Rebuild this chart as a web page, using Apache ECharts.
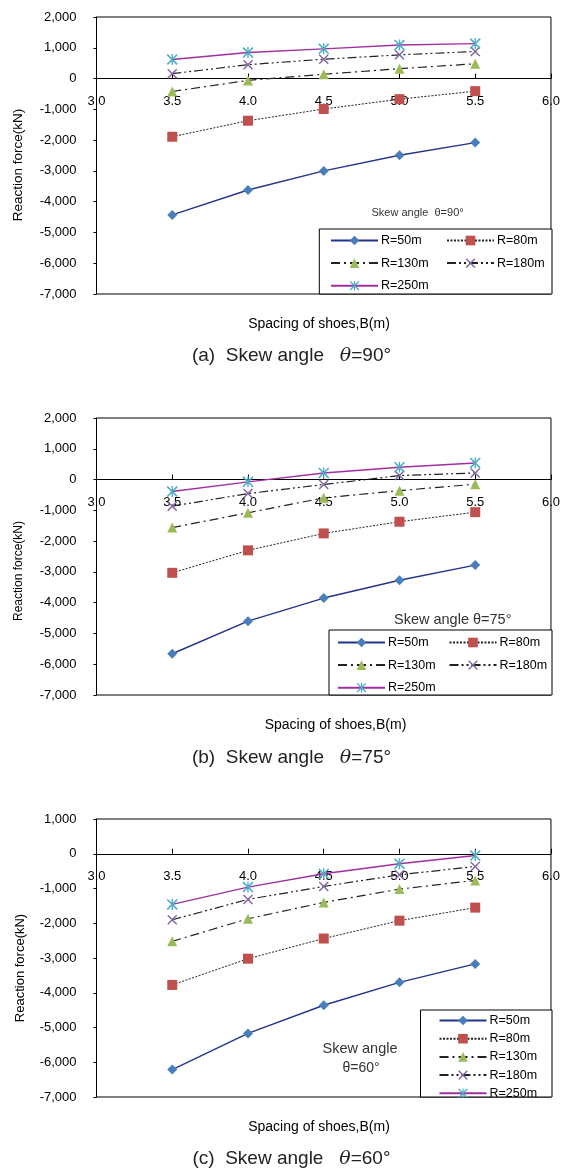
<!DOCTYPE html>
<html>
<head>
<meta charset="utf-8">
<script src="https://cdn.jsdelivr.net/npm/echarts@6/dist/echarts.min.js"></script>
<style>
html,body{margin:0;padding:0;background:#fff;}
#chart{width:563px;height:1169px;}
</style>
</head>
<body>
<div id="chart"></div>
<script>
// ---------- DATA ----------
const spacing = [3.5, 4.0, 4.5, 5.0, 5.5];
const seriesNames = ['R=50m', 'R=80m', 'R=130m', 'R=180m', 'R=250m'];

// (a) Skew angle 90°
const a_R50  = [-4430, -3620, -3000, -2490, -2080];
const a_R80  = [-1890, -1370, -990, -670, -410];
const a_R130 = [-420, -60, 140, 320, 480];
const a_R180 = [160, 450, 630, 770, 880];
const a_R250 = [620, 845, 965, 1090, 1135];

// (b) Skew angle 75°
const b_R50  = [-5660, -4600, -3850, -3270, -2780];
const b_R80  = [-3030, -2300, -1750, -1370, -1060];
const b_R130 = [-1560, -1080, -595, -360, -150];
const b_R180 = [-865, -455, -160, 130, 215];
const b_R250 = [-390, -75, 215, 400, 540];

// (c) Skew angle 60°
const c_R50  = [-6210, -5170, -4360, -3700, -3170];
const c_R80  = [-3775, -3020, -2440, -1925, -1550];
const c_R130 = [-2520, -1870, -1400, -1017, -767];
const c_R180 = [-1900, -1313, -940, -606, -365];
const c_R250 = [-1457, -960, -575, -287, -50];

const yTicksAB = {min: -7000, max: 2000, interval: 1000};
const yTicksC  = {min: -7000, max: 1000, interval: 1000};
const xTicks   = {min: 3.0, max: 6.0, interval: 0.5};

const panels = [
  [a_R50, a_R80, a_R130, a_R180, a_R250],
  [b_R50, b_R80, b_R130, b_R180, b_R250],
  [c_R50, c_R80, c_R130, c_R180, c_R250]
];

// ---------- STYLE ----------
const FONT = '"Liberation Sans", Arial, sans-serif';
const X_PATH = 'path://M0,1L1,0L10,9L9,10Z M9,0L10,1L1,10L0,9Z';
const AST_PATH = 'path://M0,1L1,0L10,9L9,10Z M9,0L10,1L1,10L0,9Z M4.4,0L5.6,0L5.6,10L4.4,10Z';
const styles = [
  {symbol: 'diamond', size: 10, color: '#4A7EBB', line: '#24338C', width: 1.4, type: 'solid'},
  {symbol: 'rect', size: 10, color: '#C0504D', line: '#222', width: 1, type: [2, 1.5]},
  {symbol: 'triangle', size: 10, color: '#9BBB59', line: '#222', width: 1.2, type: [9, 4, 2, 4]},
  {symbol: X_PATH, size: 10, color: '#8064A2', line: '#222', width: 1.2, type: [9, 3, 2, 3, 2, 3]},
  {symbol: AST_PATH, size: 11, color: '#4BACC6', line: '#A12FA0', width: 1.4, type: 'solid'}
];

const grids = [
  {left: 96.5, top: 17, width: 455.5, height: 277},
  {left: 96.5, top: 418, width: 455.5, height: 277},
  {left: 96.5, top: 819, width: 455.5, height: 278}
];
const yTickSets = [yTicksAB, yTicksAB, yTicksC];

const fmtThousands = v => {
  const s = Math.abs(v).toString().replace(/\B(?=(\d{3})+(?!\d))/g, ',');
  return (v < 0 ? '-' : '') + s;
};

const capRich = {i: {fontStyle: 'italic', fontFamily: '"DejaVu Serif", serif', fontSize: 19}};
const capFont = '19px ' + FONT;

const option = {
  animation: false,
  backgroundColor: '#fff',
  grid: grids.map(g => Object.assign({show: true, borderColor: '#000', borderWidth: 1, backgroundColor: 'transparent'}, g)),
  xAxis: grids.map((g, i) => ({
    type: 'value', gridIndex: i, position: 'bottom', offset: 0,
    min: xTicks.min, max: xTicks.max, interval: xTicks.interval,
    axisLine: {onZero: false, lineStyle: {color: '#000', width: 1}},
    axisTick: {show: true, inside: true, length: 5, lineStyle: {color: '#000'}},
    axisLabel: {formatter: v => v.toFixed(1), margin: 16, color: '#000', fontSize: 13, fontFamily: FONT},
    splitLine: {show: false}
  })),
  yAxis: grids.map((g, i) => {
    const t = yTickSets[i];
    return {
      type: 'value', gridIndex: i,
      min: t.min, max: t.max, interval: t.interval,
      axisLine: {show: true, lineStyle: {color: '#000'}},
      axisTick: {show: true, length: 3, lineStyle: {color: '#000'}},
      axisLabel: {formatter: fmtThousands, margin: 20, color: '#000', fontSize: 13, fontFamily: FONT},
      splitLine: {show: false}
    };
  }),
  legend: [
    {data: ['R=50m', 'R=130m', 'R=250m'], orient: 'vertical', left: 330, top: 234},
    {data: ['R=80m', 'R=180m'], orient: 'vertical', left: 446, top: 234},
    {data: ['R=50m', 'R=130m', 'R=250m'], orient: 'vertical', left: 337, top: 636},
    {data: ['R=80m', 'R=180m'], orient: 'vertical', left: 448.5, top: 636},
    {data: seriesNames, orient: 'vertical', left: 438.5, top: 1014, itemGap: 5.2}
  ].map(l => Object.assign({
    itemWidth: 47, itemHeight: 12, itemGap: 9.6, padding: 0, selectedMode: false, z: 10,
    textStyle: {fontSize: 12.5, fontFamily: FONT, color: '#000', lineHeight: 10, padding: [0, 0, 0, -2]}
  }, l)),
  graphic: [
    // legend boxes
    {type: 'rect', shape: {x: 319.3, y: 229, width: 232.7, height: 65}, style: {fill: '#fff', stroke: '#000', lineWidth: 1}, z: 5},
    {type: 'rect', shape: {x: 329, y: 630, width: 223, height: 65}, style: {fill: '#fff', stroke: '#000', lineWidth: 1}, z: 5},
    {type: 'rect', shape: {x: 420.5, y: 1010, width: 131.5, height: 87}, style: {fill: '#fff', stroke: '#000', lineWidth: 1}, z: 5},
    // skew angle notes
    {type: 'text', x: 371.5, y: 213, style: {text: 'Skew angle  θ=90°', font: '11px ' + FONT, fill: '#333', textVerticalAlign: 'middle'}},
    {type: 'text', x: 394, y: 620, style: {text: 'Skew angle θ=75°', font: '14.5px ' + FONT, fill: '#333', textVerticalAlign: 'middle'}},
    {type: 'text', x: 360, y: 1049, style: {text: 'Skew angle', font: '14.5px ' + FONT, fill: '#333', textAlign: 'center', textVerticalAlign: 'middle'}},
    {type: 'text', x: 361, y: 1068, style: {text: 'θ=60°', font: '14px ' + FONT, fill: '#333', textAlign: 'center', textVerticalAlign: 'middle'}},
    // x axis titles
    {type: 'text', x: 319, y: 324, style: {text: 'Spacing of shoes,B(m)', font: '14px ' + FONT, fill: '#000', textAlign: 'center', textVerticalAlign: 'middle'}},
    {type: 'text', x: 335.5, y: 725, style: {text: 'Spacing of shoes,B(m)', font: '14px ' + FONT, fill: '#000', textAlign: 'center', textVerticalAlign: 'middle'}},
    {type: 'text', x: 319, y: 1127, style: {text: 'Spacing of shoes,B(m)', font: '14px ' + FONT, fill: '#000', textAlign: 'center', textVerticalAlign: 'middle'}},
    // y axis titles
    {type: 'text', x: 18, y: 165, rotation: Math.PI / 2, style: {text: 'Reaction force(kN)', font: '13.5px ' + FONT, fill: '#000', textAlign: 'center', textVerticalAlign: 'middle'}},
    {type: 'text', x: 19, y: 571, rotation: Math.PI / 2, style: {text: 'Reaction force(kN)', font: '12px ' + FONT, fill: '#000', textAlign: 'center', textVerticalAlign: 'middle'}},
    {type: 'text', x: 20, y: 968, rotation: Math.PI / 2, style: {text: 'Reaction force(kN)', font: '13px ' + FONT, fill: '#000', textAlign: 'center', textVerticalAlign: 'middle'}},
    // captions
    {type: 'text', x: 291.5, y: 356, style: {text: '(a)  Skew angle   {i|θ}=90°', font: capFont, fill: '#222', textAlign: 'center', textVerticalAlign: 'middle', rich: capRich}},
    {type: 'text', x: 291.5, y: 758, style: {text: '(b)  Skew angle   {i|θ}=75°', font: capFont, fill: '#222', textAlign: 'center', textVerticalAlign: 'middle', rich: capRich}},
    {type: 'text', x: 291.5, y: 1159, style: {text: '(c)  Skew angle   {i|θ}=60°', font: capFont, fill: '#222', textAlign: 'center', textVerticalAlign: 'middle', rich: capRich}}
  ],
  series: []
};

panels.forEach((panel, gi) => {
  panel.forEach((vals, si) => {
    const st = styles[si];
    option.series.push({
      type: 'line', name: seriesNames[si],
      xAxisIndex: gi, yAxisIndex: gi,
      data: spacing.map((x, k) => [x, vals[k]]),
      symbol: st.symbol, symbolSize: st.size,
      itemStyle: {color: st.color, borderWidth: 0},
      lineStyle: {color: st.line, width: st.width, type: st.type},
      z: 3 + si
    });
  });
});

const chart = echarts.init(document.getElementById('chart'), null, {renderer: 'canvas'});
chart.setOption(option);

// Place each x axis on the y = 0 line, using the library's own y scale.
const offsets = grids.map((g, i) => {
  const zeroPx = chart.convertToPixel({yAxisIndex: i}, 0);
  const bottomPx = chart.convertToPixel({yAxisIndex: i}, yTickSets[i].min);
  return zeroPx - bottomPx;
});
chart.setOption({xAxis: offsets.map(o => ({offset: o}))});
</script>
</body>
</html>
